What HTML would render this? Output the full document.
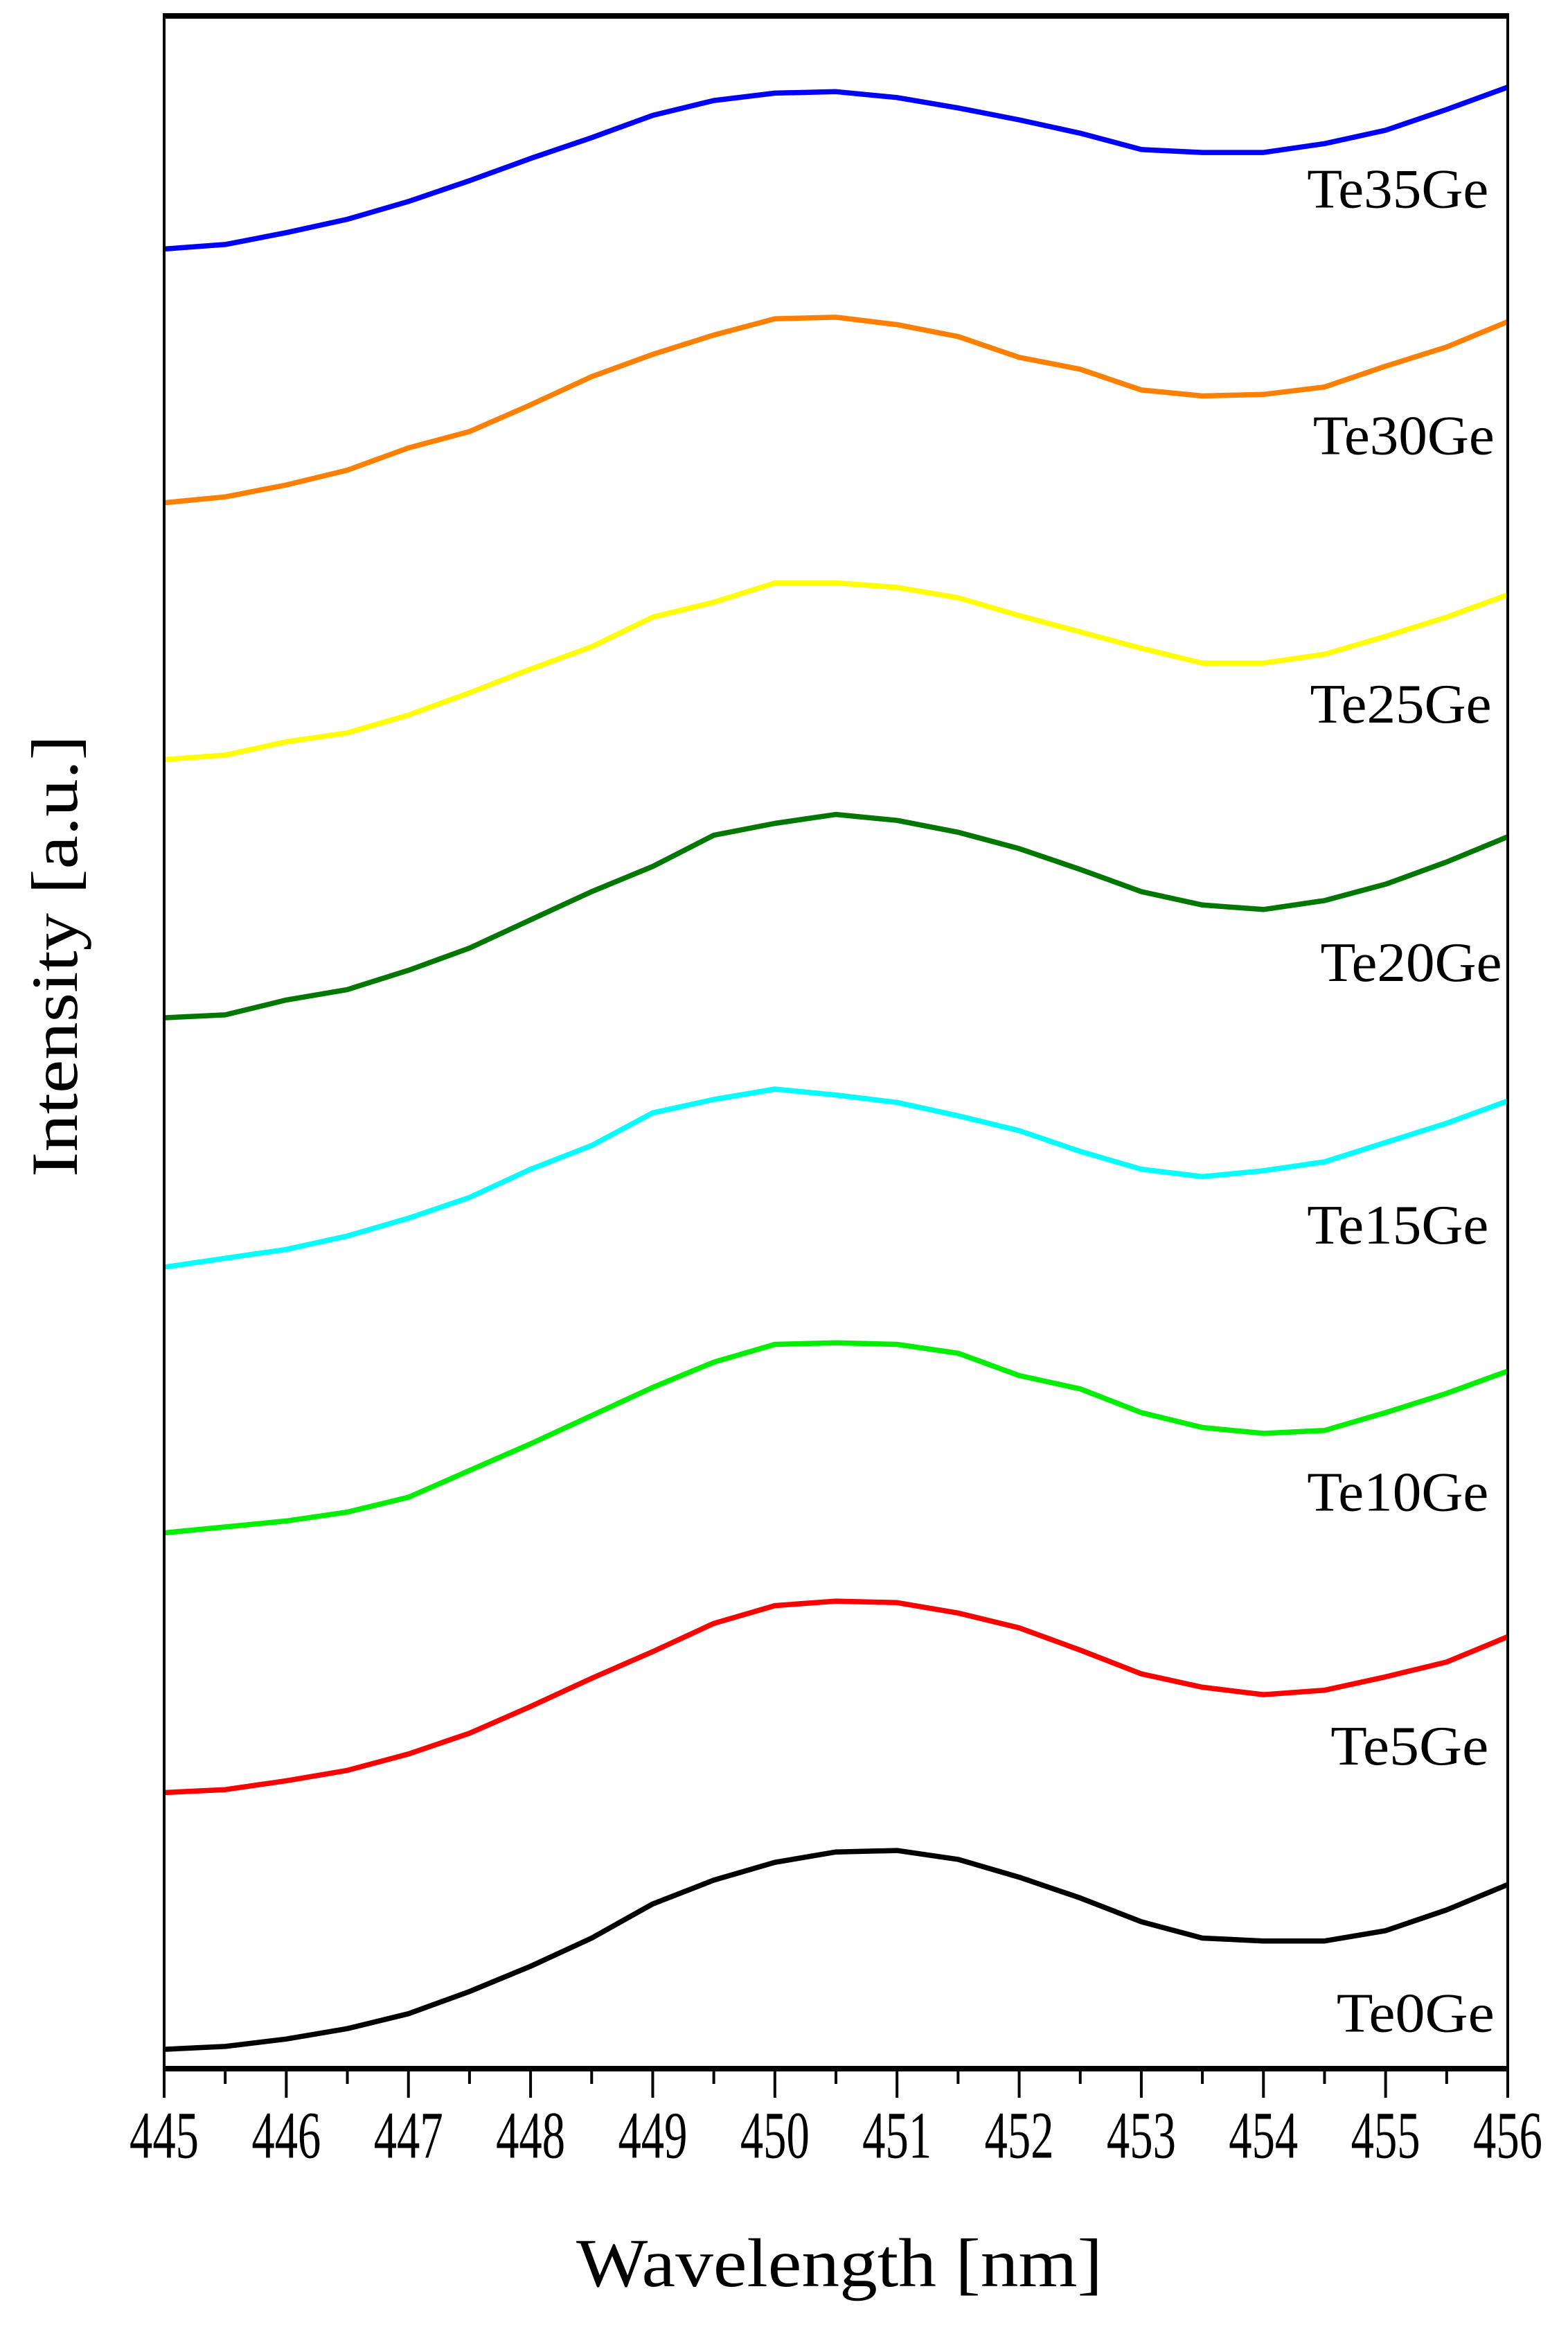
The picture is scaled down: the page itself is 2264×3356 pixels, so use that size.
<!DOCTYPE html>
<html><head><meta charset="utf-8">
<style>
html,body{margin:0;padding:0;background:#fff;}
svg{display:block;}
text{font-family:"Liberation Serif",serif;fill:#000;}
</style></head>
<body>
<svg id="chart" width="2264" height="3356" viewBox="0 0 2264 3356" xmlns="http://www.w3.org/2000/svg">
<rect x="0" y="0" width="2264" height="3356" fill="#fff"/>
<g id="series"></g>
<g id="axes"></g>
<text x="79" y="1380" font-size="95" text-anchor="middle" dominant-baseline="central" transform="rotate(-90 79 1380)" textLength="638" lengthAdjust="spacingAndGlyphs">Intensity [a.u.]</text>
<text x="1212" y="3300" font-size="100" text-anchor="middle" textLength="760" lengthAdjust="spacingAndGlyphs">Wavelength [nm]</text>
</svg>
<script>
const xValues = [445,445.5,446,446.5,447,447.5,448,448.5,449,449.5,450,450.5,451,451.5,452,452.5,453,453.5,454,454.5,455,455.5,456];
const xTicks = [445,446,447,448,449,450,451,452,453,454,455,456];
const seriesNames = ["Te0Ge","Te5Ge","Te10Ge","Te15Ge","Te20Ge","Te25Ge","Te30Ge","Te35Ge"];
const seriesColors = ["#000000","#ff0000","#00ee00","#00ffff","#007700","#ffff00","#ff8000","#0000ff"];
// values in display-pixel-like units (0 = top of plot, 1383 = bottom)
const te0 = [1380,1378,1373,1366,1356,1341,1324,1305,1282,1266,1254,1247,1246,1252,1264,1278,1294,1305,1307,1307,1300,1286,1269];
const te5 = [1207,1205,1199,1192,1181,1167,1149,1130,1112,1093,1081,1078,1079,1086,1096,1111,1127,1136,1141,1138,1129,1119,1102];
const te10 = [1032,1028,1024,1018,1008,990,972,953,934,917,905,904,905,911,926,935,951,961,965,963,951,938,923];
const te15 = [853,847,841,832,820,806,787,771,749,740,733,737,742,751,761,775,787,792,788,782,769,756,741];
const te20 = [685,683,673,666,653,638,619,600,583,562,554,548,552,560,571,585,600,609,612,606,595,580,563];
const te25 = [511,508,499,493,481,466,450,435,415,405,392,392,395,402,414,425,436,446,446,440,428,415,400];
const te30 = [338,334,326,316,301,290,272,253,238,225,214,213,218,226,240,248,262,266,265,260,246,233,216];
const te35 = [167,164,156,147,135,121,106,92,77,67,62,61,65,72,80,89,100,102,102,96,87,73,58];
const labelY = [1356,1176,1005,825,648,474,293,127];
const labelRight = [1008,1004,1004,1004,1013,1006,1008,1004];

const allSeries = [te0,te5,te10,te15,te20,te25,te30,te35];
const NS = "http://www.w3.org/2000/svg";
const L = 237, R = 2177, T = 23, B = 2986;
const xMin = 445, xMax = 456, dMin = 10, dMax = 1393;
function xScale(v){ return L + (v - xMin) / (xMax - xMin) * (R - L); }
function yScale(v){ return T + (v - dMin) / (dMax - dMin) * (B - T); }

const sg = document.getElementById('series');
allSeries.forEach((s, i) => {
  const p = document.createElementNS(NS, 'path');
  let d = '';
  s.forEach((v, j) => { d += (j ? 'L' : 'M') + xScale(xValues[j]).toFixed(1) + ' ' + yScale(v).toFixed(1); });
  p.setAttribute('d', d);
  p.setAttribute('fill', 'none');
  p.setAttribute('stroke', seriesColors[i]);
  p.setAttribute('stroke-width', '7.5');
  p.setAttribute('stroke-linejoin', 'round');
  
  
  sg.appendChild(p);
  const t = document.createElementNS(NS, 'text');
  t.setAttribute('x', xScale(xMin + (labelRight[i] - 110) / 82.45));
  t.setAttribute('y', yScale(labelY[i]));
  t.setAttribute('font-size', '80');
  t.setAttribute('text-anchor', 'end');
  t.setAttribute('dominant-baseline', 'central');
  t.setAttribute('textLength', seriesNames[i].length === 6 ? '262' : '228');
  t.setAttribute('lengthAdjust', 'spacingAndGlyphs');
  t.textContent = seriesNames[i];
  
  
  sg.appendChild(t);
});

const ag = document.getElementById('axes');
function line(x1,y1,x2,y2,w,name){
  const l = document.createElementNS(NS,'line');
  l.setAttribute('x1',x1); l.setAttribute('y1',y1); l.setAttribute('x2',x2); l.setAttribute('y2',y2);
  l.setAttribute('stroke','#000'); l.setAttribute('stroke-width',w);
  
  
  ag.appendChild(l);
}
line(L, T, L, B, 4, 'left-axis-line');
line(R, T, R, B, 4, 'right-axis-line');
line(L-2, T, R+2, T, 8, 'top-axis-line');
line(L-2, B, R+2, B, 8, 'x-axis-line');
for (let v = xMin; v <= xMax + 1e-9; v += 0.5) {
  const major = Math.abs(v - Math.round(v)) < 1e-9;
  line(xScale(v), B, xScale(v), B + (major ? 42 : 22), 4, major ? 'x-major-tick' : 'x-minor-tick');
}
xTicks.forEach(v => {
  const t = document.createElementNS(NS,'text');
  t.setAttribute('x', xScale(v));
  t.setAttribute('y', 3082);
  t.setAttribute('font-size', '96');
  t.setAttribute('text-anchor', 'middle');
  t.setAttribute('dominant-baseline', 'central');
  t.setAttribute('textLength', '100');
  t.setAttribute('lengthAdjust', 'spacingAndGlyphs');
  t.textContent = v;
  
  
  ag.appendChild(t);
});
</script>
</body></html>
